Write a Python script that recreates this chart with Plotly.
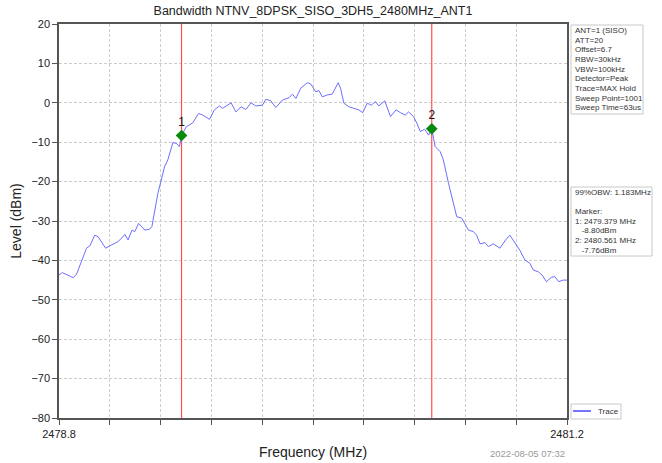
import plotly.graph_objects as go

# ---------------- data ----------------
freq_mhz = [2478.800, 2478.816, 2478.852, 2478.867, 2478.883, 2478.907, 2478.930, 2478.946,
            2478.969, 2478.985, 2479.020, 2479.048, 2479.079, 2479.095, 2479.111, 2479.126,
            2479.145, 2479.158, 2479.176, 2479.205, 2479.228, 2479.239, 2479.252, 2479.267,
            2479.283, 2479.299, 2479.314, 2479.338, 2479.354, 2479.369, 2479.379, 2479.401,
            2479.432, 2479.459, 2479.479, 2479.511, 2479.534, 2479.558, 2479.573, 2479.613,
            2479.636, 2479.660, 2479.683, 2479.707, 2479.730, 2479.761, 2479.777, 2479.801,
            2479.824, 2479.856, 2479.887, 2479.903, 2479.919, 2479.942, 2479.973, 2479.989,
            2480.013, 2480.028, 2480.044, 2480.067, 2480.091, 2480.107, 2480.119, 2480.130,
            2480.146, 2480.169, 2480.193, 2480.216, 2480.235, 2480.256, 2480.276, 2480.295,
            2480.311, 2480.339, 2480.366, 2480.392, 2480.413, 2480.436, 2480.452, 2480.475,
            2480.491, 2480.507, 2480.527, 2480.546, 2480.561, 2480.577, 2480.601, 2480.616,
            2480.640, 2480.656, 2480.679, 2480.703, 2480.734, 2480.758, 2480.773, 2480.789,
            2480.813, 2480.828, 2480.852, 2480.883, 2480.910, 2480.930, 2480.954, 2480.977,
            2481.001, 2481.024, 2481.040, 2481.064, 2481.082, 2481.103, 2481.126, 2481.142,
            2481.161, 2481.181, 2481.200]
level_dbm = [-43.7, -43.1, -44.0, -44.4, -43.5, -39.9, -36.9, -36.3,
             -33.6, -34.0, -36.9, -36.1, -35.2, -34.4, -33.4, -34.8,
             -32.3, -32.7, -30.6, -32.3, -32.1, -31.4, -27.6, -23.0,
             -19.6, -16.2, -14.5, -10.1, -10.3, -11.1, -8.3, -6.1,
             -5.1, -2.7, -3.1, -4.2, -1.8, -0.8, -1.4, 0.0,
             -2.3, -1.0, -1.7, 0.0, -0.8, -0.6, 0.9, 0.5,
             -1.2, 0.7, 1.3, 2.2, 1.1, 3.7, 5.1, 4.8,
             2.8, 3.1, 1.5, 2.0, 2.2, 4.1, 5.1, 3.7,
             -0.1, -1.0, -1.4, -1.8, -2.5, -0.1, -0.6, 0.3,
             -0.8, 0.5, -3.5, -1.8, -2.5, -3.1, -2.3, -3.5,
             -5.2, -7.3, -6.7, -8.2, -6.6, -11.1, -12.4, -14.5,
             -20.4, -23.8, -28.9, -29.3, -32.3, -32.7, -33.6, -35.8,
             -35.5, -36.5, -35.8, -36.9, -34.8, -33.6, -35.7, -37.4,
             -39.9, -40.7, -42.4, -42.9, -43.7, -45.4, -44.3, -44.1,
             -45.4, -45.0, -45.0]

marker_freq = [2479.379, 2480.561]
marker_level = [-8.3, -6.6]
marker_labels = ["1", "2"]

x_min, x_max = 2478.8, 2481.2
x_step = 0.24
y_min, y_max, y_step = -80, 20, 10

title_text = "Bandwidth NTNV_8DPSK_SISO_3DH5_2480MHz_ANT1"
x_title = "Frequency (MHz)"
y_title = "Level (dBm)"
date_text = "2022-08-05 07:32"
settings_lines = ["ANT=1 (SISO)", "ATT=20", "Offset=6.7", "RBW=30kHz", "VBW=100kHz",
                  "Detector=Peak", "Trace=MAX Hold", "Sweep Point=1001", "Sweep Time=63us"]
result_lines = ["99%OBW: 1.183MHz", "", "Marker:", "1: 2479.379 MHz", "   -8.80dBm",
                "2: 2480.561 MHz", "   -7.76dBm"]
legend_name = "Trace"

# ---------------- layout helpers (pixel -> paper) ----------------
W, H = 662, 463
L, R, T, B = 59, 567, 24, 418


def pxx(xp):
    return (xp - L) / (R - L)


def pxy(yp):
    return (B - yp) / (B - T)


FONT = "Liberation Sans, Arial, sans-serif"
TRACE_COLOR = "rgb(110,110,255)"
MARKER_LINE = "rgb(255,80,80)"
BOX_LINE = "#c8c8c8"
BOX_FONT = 8

fig = go.Figure()

# marker vertical lines (as line traces spanning the y range)
for f in marker_freq:
    fig.add_trace(go.Scatter(x=[f, f], y=[y_min, y_max], mode="lines",
                             line=dict(color=MARKER_LINE, width=1.2),
                             showlegend=False, hoverinfo="skip"))

fig.add_trace(go.Scatter(x=freq_mhz, y=level_dbm, mode="lines", name=legend_name,
                         line=dict(color=TRACE_COLOR, width=1), showlegend=False))

fig.add_trace(go.Scatter(x=marker_freq, y=marker_level, mode="markers+text",
                         text=marker_labels, textposition="top center",
                         textfont=dict(family=FONT, size=12, color="#111"),
                         marker=dict(symbol="diamond", size=9, color="#0a8a0a"),
                         showlegend=False))

n_ticks = int(round((x_max - x_min) / x_step))
x_tickvals = [x_min + i * x_step for i in range(n_ticks + 1)]
x_ticktext = [f"{v:.1f}" if i in (0, n_ticks) else "" for i, v in enumerate(x_tickvals)]

fig.update_xaxes(range=[x_min, x_max], tickmode="array", tickvals=x_tickvals, ticktext=x_ticktext,
                 showgrid=True, gridcolor="#cccccc", griddash="3px,2px", gridwidth=1,
                 showline=True, linecolor="#555", linewidth=1.5, mirror=True,
                 ticks="outside", ticklen=5, tickcolor="#555", automargin=False,
                 tickfont=dict(family=FONT, size=11, color="#222"),
                 title=dict(text=x_title, font=dict(family=FONT, size=14, color="#222"), standoff=8),
                 zeroline=False)
fig.update_yaxes(range=[y_min, y_max], tickmode="linear", tick0=y_min, dtick=y_step,
                 showgrid=True, gridcolor="#cccccc", griddash="3px,2px", gridwidth=1,
                 showline=True, linecolor="#555", linewidth=1.5, mirror=True,
                 ticks="outside", ticklen=5, tickcolor="#555", automargin=False,
                 tickfont=dict(family=FONT, size=11, color="#222"),
                 title=dict(text=y_title, font=dict(family=FONT, size=14, color="#222"), standoff=6),
                 zeroline=False)

annotations = []
shapes = []

# settings box
box1 = (571, 25, 643, 114)
shapes.append(dict(type="rect", xref="paper", yref="paper",
                   x0=pxx(box1[0]), x1=pxx(box1[2]), y0=pxy(box1[3]), y1=pxy(box1[1]),
                   line=dict(color=BOX_LINE, width=1), fillcolor="white", layer="below"))
for i, t in enumerate(settings_lines):
    annotations.append(dict(xref="paper", yref="paper", x=pxx(572.5), y=pxy(30.5 + i * 9.65),
                            xanchor="left", yanchor="middle", text=t, showarrow=False,
                            font=dict(family=FONT, size=BOX_FONT, color="#333")))

# result box
box2 = (571, 187, 652, 256)
shapes.append(dict(type="rect", xref="paper", yref="paper",
                   x0=pxx(box2[0]), x1=pxx(box2[2]), y0=pxy(box2[3]), y1=pxy(box2[1]),
                   line=dict(color=BOX_LINE, width=1), fillcolor="white", layer="below"))
for i, t in enumerate(result_lines):
    if t == "":
        continue
    annotations.append(dict(xref="paper", yref="paper", x=pxx(572.5), y=pxy(192.3 + i * 9.67),
                            xanchor="left", yanchor="middle", text=t.replace(" ", "&nbsp;"),
                            showarrow=False, font=dict(family=FONT, size=BOX_FONT, color="#333")))

# legend box (drawn)
shapes.append(dict(type="rect", xref="paper", yref="paper",
                   x0=pxx(571), x1=pxx(621), y0=pxy(419), y1=pxy(404),
                   line=dict(color=BOX_LINE, width=1), fillcolor="white", layer="above"))
shapes.append(dict(type="line", xref="paper", yref="paper",
                   x0=pxx(573), x1=pxx(591), y0=pxy(411), y1=pxy(411),
                   line=dict(color="rgb(70,70,255)", width=1.5), layer="above"))
annotations.append(dict(xref="paper", yref="paper", x=pxx(596), y=pxy(411),
                        xanchor="left", yanchor="middle", text=legend_name, showarrow=False,
                        font=dict(family=FONT, size=BOX_FONT, color="#333")))

# date
annotations.append(dict(xref="paper", yref="paper", x=1.0, y=pxy(453),
                        xanchor="right", yanchor="middle", text=date_text, showarrow=False,
                        font=dict(family=FONT, size=9.5, color="#9a9a9a")))

fig.update_layout(
    width=W, height=H,
    margin=dict(l=L, r=W - R, t=T, b=H - B, autoexpand=False),
    paper_bgcolor="white", plot_bgcolor="white",
    title=dict(text=title_text, x=313 / W, xanchor="center",
               y=1 - 11 / H, yanchor="middle",
               font=dict(family=FONT, size=12.5, color="#222")),
    showlegend=False,
    shapes=shapes, annotations=annotations,
    font=dict(family=FONT),
)

fig.write_html("out.html")
